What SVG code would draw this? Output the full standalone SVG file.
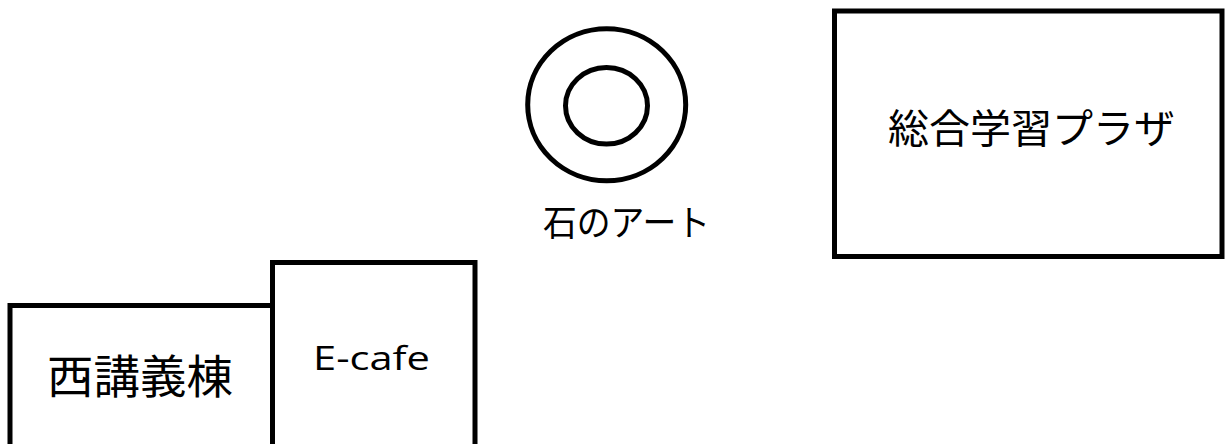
<svg xmlns="http://www.w3.org/2000/svg" width="1225" height="444" viewBox="0 0 1225 444">
  <style>
    .shape { fill: #ffffff; stroke: #000000; stroke-width: 5; }
    .ring { fill: none; stroke: #000000; stroke-width: 5; }
    .label { fill: #000000; font-family: "Noto Sans CJK JP", "Noto Sans", sans-serif; text-anchor: middle; }
    .latin { fill: #000000; font-family: "Open Sans", "Noto Sans", sans-serif; text-anchor: middle; }
  </style>
  <rect x="0" y="0" width="1225" height="444" fill="#ffffff"/>
  <g id="connectors"></g>
  <g id="plaza">
    <rect class="shape" x="834.5" y="11" width="387.5" height="245.5"/>
    <text class="label" x="1031.5" y="143" font-size="40" textLength="287" lengthAdjust="spacingAndGlyphs">総合学習プラザ</text>
  </g>
  <g id="stone-art">
    <ellipse class="ring" cx="606.7" cy="104.8" rx="79" ry="76"/>
    <ellipse class="ring" cx="606.5" cy="105.8" rx="41" ry="38.3"/>
    <text class="label" x="626.5" y="236" font-size="36" textLength="167" lengthAdjust="spacingAndGlyphs">石のアート</text>
  </g>
  <g id="west-hall">
    <rect class="shape" x="10" y="305.5" width="262.5" height="160"/>
    <text class="label" x="140" y="393" font-size="46" textLength="186" lengthAdjust="spacingAndGlyphs">西講義棟</text>
  </g>
  <g id="ecafe">
    <rect class="shape" x="272.5" y="262.5" width="202.5" height="200"/>
    <text class="latin" x="371.5" y="370" font-size="32" textLength="117" lengthAdjust="spacingAndGlyphs">E-cafe</text>
  </g>
</svg>
